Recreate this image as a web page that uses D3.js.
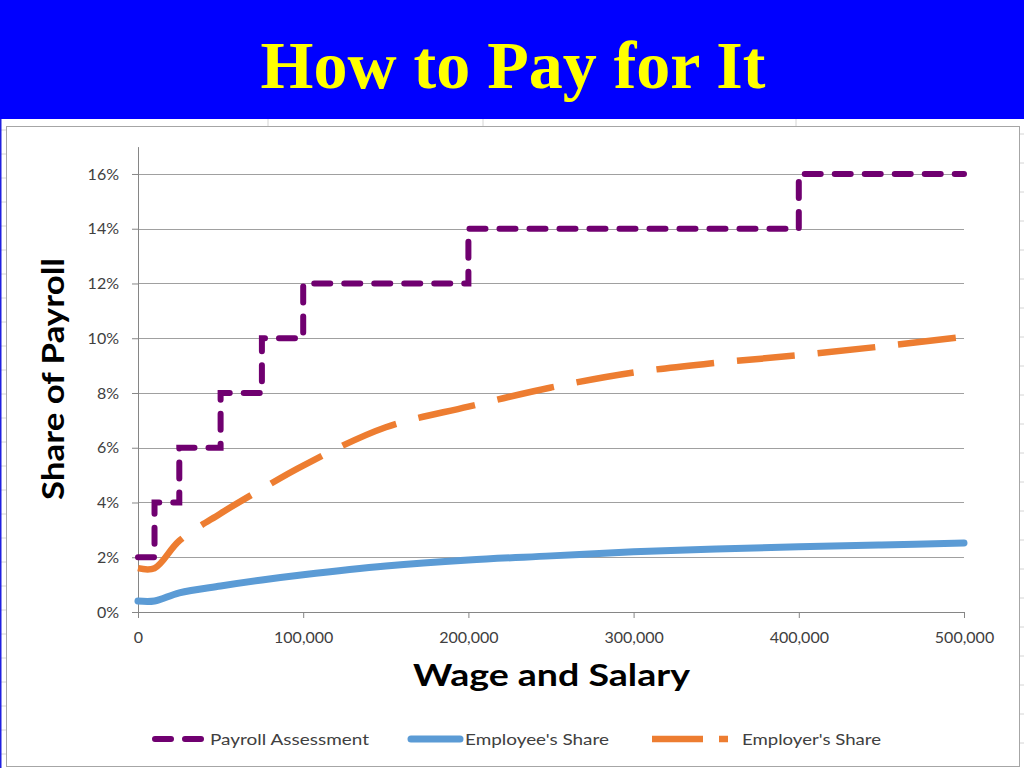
<!DOCTYPE html>
<html><head><meta charset="utf-8">
<script src="https://cdn.jsdelivr.net/npm/d3@7/dist/d3.min.js"></script>
<style>body{margin:0;background:#fff;}svg{display:block;}</style>
</head><body>
<svg id="c" width="1024" height="768"></svg>
<script>
const title = "How to Pay for It";
const yTitle = "Share of Payroll";
const xTitle = "Wage and Salary";
const seriesNames = ["Payroll Assessment", "Employee's Share", "Employer's Share"];
const payrollWage = [0, 10000, 25000, 50000, 75000, 100000, 200000, 400000, 500000];
const payrollRate = [2, 4, 6, 8, 10, 12, 14, 16, 16];
const wages = [0, 10000, 25000, 50000, 75000, 100000, 150000, 200000, 250000, 300000, 350000, 400000, 450000, 500000];
const employeeShare = [0.4, 0.4, 0.7, 0.95, 1.17, 1.36, 1.68, 1.9, 2.05, 2.2, 2.3, 2.38, 2.45, 2.52];
const employerShare = [1.6, 1.6, 2.6, 3.6, 4.5, 5.35, 6.75, 7.5, 8.2, 8.75, 9.1, 9.38, 9.7, 10.05];
const yTicks = [0, 2, 4, 6, 8, 10, 12, 14, 16];
const xTicks = [0, 100000, 200000, 300000, 400000, 500000];

const svg = d3.select("#c");
const font = "Lato, 'Open Sans', sans-serif";

// slide header
svg.append("rect").attr("x",0).attr("y",0).attr("width",1024).attr("height",119).attr("fill","#0000FF");
svg.append("text").attr("x",513).attr("y",88).attr("text-anchor","middle")
  .attr("font-family","'Liberation Serif','Times New Roman',serif").attr("font-weight","bold")
  .attr("font-size",68).attr("fill","#FFFF00").text(title);

// faint spreadsheet background
const bg = svg.append("g").attr("stroke","#d4d4d4").attr("stroke-width",1);
[268,483,796].forEach(x=>bg.append("line").attr("x1",x).attr("x2",x).attr("y1",119).attr("y2",126));
d3.range(130,768,24).forEach(y=>bg.append("line").attr("x1",0).attr("x2",6).attr("y1",y).attr("y2",y));
d3.range(134,768,29).forEach(y=>bg.append("line").attr("x1",1020).attr("x2",1024).attr("y1",y).attr("y2",y));
svg.append("rect").attr("x",0).attr("y",119).attr("width",1.5).attr("height",649).attr("fill","#2020e0");

// chart frame
svg.append("rect").attr("x",6.5).attr("y",126.5).attr("width",1013).attr("height",640)
  .attr("fill","#fff").attr("stroke","#a6a6a6").attr("stroke-width",1);

const x = d3.scaleLinear().domain([0,500000]).range([138,964]);
const y = d3.scaleLinear().domain([0,17]).range([612,146.6]);

// gridlines
svg.append("g").selectAll("line").data(yTicks.filter(d=>d>0)).join("line")
  .attr("x1",x(0)).attr("x2",x(500000)).attr("y1",d=>Math.round(y(d))+0.5).attr("y2",d=>Math.round(y(d))+0.5)
  .attr("stroke","#a0a0a0").attr("stroke-width",1);

// axes
const yAxis = svg.append("g").attr("transform",`translate(${x(0)},0)`)
  .call(d3.axisLeft(y).tickValues(yTicks).tickFormat(d=>d+"%").tickSize(6).tickSizeOuter(0).tickPadding(13));
const xAxis = svg.append("g").attr("transform",`translate(0,${y(0)})`)
  .call(d3.axisBottom(x).tickValues(xTicks).tickFormat(d3.format(",")).tickSize(6).tickSizeOuter(0).tickPadding(14));
[yAxis,xAxis].forEach(a=>{
  a.selectAll("path,line").attr("stroke","#868686");
  a.selectAll("text").attr("font-family",font).attr("font-size",16).attr("fill","#404040");
});

// series
const stepLine = d3.line().x((d,i)=>x(payrollWage[i])).y(d=>y(d)).curve(d3.curveStepAfter);
const smooth = d3.line().x((d,i)=>x(wages[i])).y(d=>y(d)).curve(d3.curveCatmullRom.alpha(0.5));

svg.append("path").attr("d",stepLine(payrollRate)).attr("fill","none")
  .attr("stroke","#700070").attr("stroke-width",6).attr("stroke-dasharray","16,14").attr("stroke-linecap","round");
svg.append("path").attr("d",smooth(employeeShare)).attr("fill","none")
  .attr("stroke","#5B9BD5").attr("stroke-width",7).attr("stroke-linecap","round");
svg.append("path").attr("d",smooth(employerShare)).attr("fill","none")
  .attr("stroke","#ED7D31").attr("stroke-width",6.5).attr("stroke-dasharray","58,23").attr("stroke-linecap","butt");

// axis titles
svg.append("text").attr("transform","translate(63.5,379) rotate(-90)").attr("text-anchor","middle")
  .attr("font-family",font).attr("font-weight","bold").attr("font-size",31).attr("fill","#000")
  .attr("textLength",242).attr("lengthAdjust","spacingAndGlyphs").text(yTitle);
svg.append("text").attr("x",551.5).attr("y",686).attr("text-anchor","middle")
  .attr("font-family",font).attr("font-weight","bold").attr("font-size",31).attr("fill","#000")
  .attr("textLength",277).attr("lengthAdjust","spacingAndGlyphs").text(xTitle);

// legend
const ly = 739;
const lg = svg.append("g");
lg.append("line").attr("x1",155).attr("x2",204).attr("y1",ly).attr("y2",ly)
  .attr("stroke","#700070").attr("stroke-width",6).attr("stroke-dasharray","16,14").attr("stroke-linecap","round");
lg.append("line").attr("x1",411).attr("x2",460).attr("y1",ly).attr("y2",ly)
  .attr("stroke","#5B9BD5").attr("stroke-width",7).attr("stroke-linecap","round");
lg.append("line").attr("x1",652).attr("x2",728).attr("y1",ly).attr("y2",ly)
  .attr("stroke","#ED7D31").attr("stroke-width",6.5).attr("stroke-dasharray","51,16,9").attr("stroke-linecap","butt");
const lx = [210, 465, 742];
const lw = [159, 144, 139];
seriesNames.forEach((n,i)=>lg.append("text").attr("x",lx[i]).attr("y",ly+5.5)
  .attr("font-family",font).attr("font-size",16).attr("fill","#404040")
  .attr("textLength",lw[i]).attr("lengthAdjust","spacingAndGlyphs").text(n));
</script>
</body></html>
